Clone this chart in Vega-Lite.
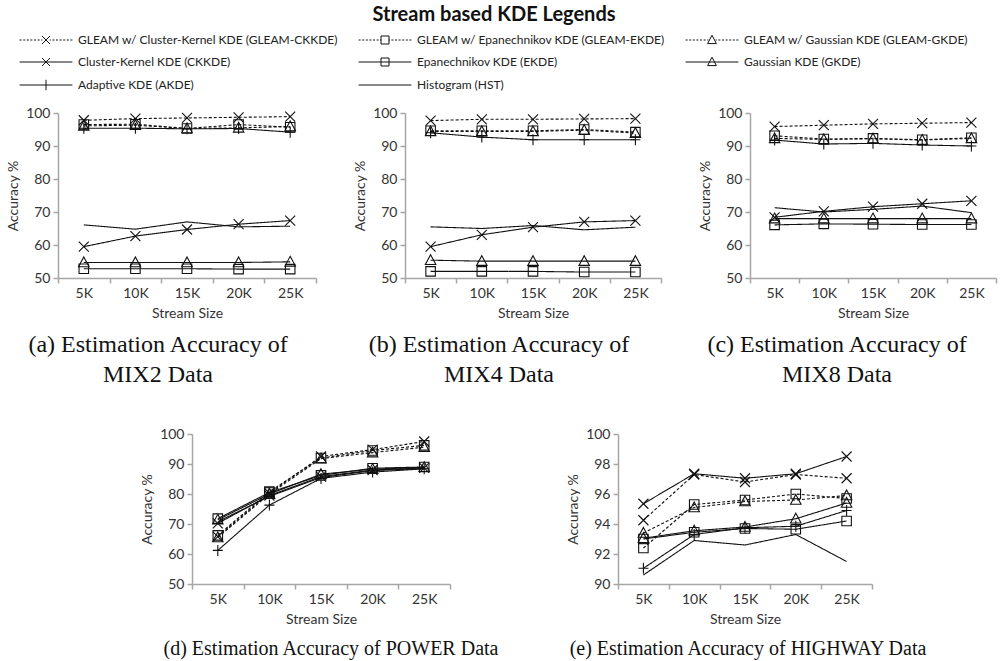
{
"$schema": "https://vega.github.io/schema/vega-lite/v6.json",
"background": "white",
"padding": {"left": 6, "top": 5, "right": 5, "bottom": 5},
"spacing": 40,
"datasets": {
"legendItems": [
{"label": "GLEAM w/ Cluster-Kernel KDE (GLEAM-CKKDE)"},
{"label": "GLEAM w/ Epanechnikov KDE (GLEAM-EKDE)"},
{"label": "GLEAM w/ Gaussian KDE (GLEAM-GKDE)"},
{"label": "Cluster-Kernel KDE (CKKDE)"},
{"label": "Epanechnikov KDE (EKDE)"},
{"label": "Gaussian KDE (GKDE)"},
{"label": "Adaptive KDE (AKDE)"},
{"label": "Histogram (HST)"}
],
"acc": [
{"panel":"a","series":"GLEAM-CKKDE","size":"5K","accuracy":97.8},{"panel":"a","series":"GLEAM-CKKDE","size":"10K","accuracy":98.3},{"panel":"a","series":"GLEAM-CKKDE","size":"15K","accuracy":98.5},{"panel":"a","series":"GLEAM-CKKDE","size":"20K","accuracy":98.7},{"panel":"a","series":"GLEAM-CKKDE","size":"25K","accuracy":98.9},
{"panel":"a","series":"GLEAM-EKDE","size":"5K","accuracy":96.5},{"panel":"a","series":"GLEAM-EKDE","size":"10K","accuracy":96.6},{"panel":"a","series":"GLEAM-EKDE","size":"15K","accuracy":95.3},{"panel":"a","series":"GLEAM-EKDE","size":"20K","accuracy":96.5},{"panel":"a","series":"GLEAM-EKDE","size":"25K","accuracy":95.7},
{"panel":"a","series":"GLEAM-GKDE","size":"5K","accuracy":96.1},{"panel":"a","series":"GLEAM-GKDE","size":"10K","accuracy":96.3},{"panel":"a","series":"GLEAM-GKDE","size":"15K","accuracy":95.3},{"panel":"a","series":"GLEAM-GKDE","size":"20K","accuracy":95.5},{"panel":"a","series":"GLEAM-GKDE","size":"25K","accuracy":95.9},
{"panel":"a","series":"CKKDE","size":"5K","accuracy":59.5},{"panel":"a","series":"CKKDE","size":"10K","accuracy":62.7},{"panel":"a","series":"CKKDE","size":"15K","accuracy":64.7},{"panel":"a","series":"CKKDE","size":"20K","accuracy":66.3},{"panel":"a","series":"CKKDE","size":"25K","accuracy":67.4},
{"panel":"a","series":"EKDE","size":"5K","accuracy":52.8},{"panel":"a","series":"EKDE","size":"10K","accuracy":52.8},{"panel":"a","series":"EKDE","size":"15K","accuracy":52.8},{"panel":"a","series":"EKDE","size":"20K","accuracy":52.7},{"panel":"a","series":"EKDE","size":"25K","accuracy":52.7},
{"panel":"a","series":"GKDE","size":"5K","accuracy":54.7},{"panel":"a","series":"GKDE","size":"10K","accuracy":54.7},{"panel":"a","series":"GKDE","size":"15K","accuracy":54.7},{"panel":"a","series":"GKDE","size":"20K","accuracy":54.7},{"panel":"a","series":"GKDE","size":"25K","accuracy":54.9},
{"panel":"a","series":"AKDE","size":"5K","accuracy":95.4},{"panel":"a","series":"AKDE","size":"10K","accuracy":95.4},{"panel":"a","series":"AKDE","size":"15K","accuracy":95.2},{"panel":"a","series":"AKDE","size":"20K","accuracy":95.3},{"panel":"a","series":"AKDE","size":"25K","accuracy":94.2},
{"panel":"a","series":"HST","size":"5K","accuracy":66.1},{"panel":"a","series":"HST","size":"10K","accuracy":64.8},{"panel":"a","series":"HST","size":"15K","accuracy":67.0},{"panel":"a","series":"HST","size":"20K","accuracy":65.5},{"panel":"a","series":"HST","size":"25K","accuracy":65.7},
{"panel":"b","series":"GLEAM-CKKDE","size":"5K","accuracy":97.7},{"panel":"b","series":"GLEAM-CKKDE","size":"10K","accuracy":98.1},{"panel":"b","series":"GLEAM-CKKDE","size":"15K","accuracy":98.1},{"panel":"b","series":"GLEAM-CKKDE","size":"20K","accuracy":98.2},{"panel":"b","series":"GLEAM-CKKDE","size":"25K","accuracy":98.3},
{"panel":"b","series":"GLEAM-EKDE","size":"5K","accuracy":94.6},{"panel":"b","series":"GLEAM-EKDE","size":"10K","accuracy":94.6},{"panel":"b","series":"GLEAM-EKDE","size":"15K","accuracy":94.6},{"panel":"b","series":"GLEAM-EKDE","size":"20K","accuracy":95.0},{"panel":"b","series":"GLEAM-EKDE","size":"25K","accuracy":94.2},
{"panel":"b","series":"GLEAM-GKDE","size":"5K","accuracy":94.4},{"panel":"b","series":"GLEAM-GKDE","size":"10K","accuracy":94.4},{"panel":"b","series":"GLEAM-GKDE","size":"15K","accuracy":94.4},{"panel":"b","series":"GLEAM-GKDE","size":"20K","accuracy":94.8},{"panel":"b","series":"GLEAM-GKDE","size":"25K","accuracy":93.9},
{"panel":"b","series":"CKKDE","size":"5K","accuracy":59.5},{"panel":"b","series":"CKKDE","size":"10K","accuracy":63.1},{"panel":"b","series":"CKKDE","size":"15K","accuracy":65.4},{"panel":"b","series":"CKKDE","size":"20K","accuracy":67.0},{"panel":"b","series":"CKKDE","size":"25K","accuracy":67.4},
{"panel":"b","series":"EKDE","size":"5K","accuracy":52.0},{"panel":"b","series":"EKDE","size":"10K","accuracy":52.0},{"panel":"b","series":"EKDE","size":"15K","accuracy":52.0},{"panel":"b","series":"EKDE","size":"20K","accuracy":51.8},{"panel":"b","series":"EKDE","size":"25K","accuracy":51.8},
{"panel":"b","series":"GKDE","size":"5K","accuracy":55.4},{"panel":"b","series":"GKDE","size":"10K","accuracy":55.1},{"panel":"b","series":"GKDE","size":"15K","accuracy":55.1},{"panel":"b","series":"GKDE","size":"20K","accuracy":55.1},{"panel":"b","series":"GKDE","size":"25K","accuracy":55.1},
{"panel":"b","series":"AKDE","size":"5K","accuracy":94.0},{"panel":"b","series":"AKDE","size":"10K","accuracy":92.7},{"panel":"b","series":"AKDE","size":"15K","accuracy":91.9},{"panel":"b","series":"AKDE","size":"20K","accuracy":91.9},{"panel":"b","series":"AKDE","size":"25K","accuracy":91.9},
{"panel":"b","series":"HST","size":"5K","accuracy":65.5},{"panel":"b","series":"HST","size":"10K","accuracy":65.0},{"panel":"b","series":"HST","size":"15K","accuracy":65.9},{"panel":"b","series":"HST","size":"20K","accuracy":64.6},{"panel":"b","series":"HST","size":"25K","accuracy":65.4},
{"panel":"c","series":"GLEAM-CKKDE","size":"5K","accuracy":95.9},{"panel":"c","series":"GLEAM-CKKDE","size":"10K","accuracy":96.3},{"panel":"c","series":"GLEAM-CKKDE","size":"15K","accuracy":96.7},{"panel":"c","series":"GLEAM-CKKDE","size":"20K","accuracy":96.9},{"panel":"c","series":"GLEAM-CKKDE","size":"25K","accuracy":97.1},
{"panel":"c","series":"GLEAM-EKDE","size":"5K","accuracy":93.1},{"panel":"c","series":"GLEAM-EKDE","size":"10K","accuracy":92.1},{"panel":"c","series":"GLEAM-EKDE","size":"15K","accuracy":92.3},{"panel":"c","series":"GLEAM-EKDE","size":"20K","accuracy":91.9},{"panel":"c","series":"GLEAM-EKDE","size":"25K","accuracy":92.5},
{"panel":"c","series":"GLEAM-GKDE","size":"5K","accuracy":92.3},{"panel":"c","series":"GLEAM-GKDE","size":"10K","accuracy":92.0},{"panel":"c","series":"GLEAM-GKDE","size":"15K","accuracy":92.2},{"panel":"c","series":"GLEAM-GKDE","size":"20K","accuracy":91.8},{"panel":"c","series":"GLEAM-GKDE","size":"25K","accuracy":92.3},
{"panel":"c","series":"CKKDE","size":"5K","accuracy":68.4},{"panel":"c","series":"CKKDE","size":"10K","accuracy":70.2},{"panel":"c","series":"CKKDE","size":"15K","accuracy":71.6},{"panel":"c","series":"CKKDE","size":"20K","accuracy":72.5},{"panel":"c","series":"CKKDE","size":"25K","accuracy":73.4},
{"panel":"c","series":"EKDE","size":"5K","accuracy":66.1},{"panel":"c","series":"EKDE","size":"10K","accuracy":66.4},{"panel":"c","series":"EKDE","size":"15K","accuracy":66.3},{"panel":"c","series":"EKDE","size":"20K","accuracy":66.2},{"panel":"c","series":"EKDE","size":"25K","accuracy":66.2},
{"panel":"c","series":"GKDE","size":"5K","accuracy":68.0},{"panel":"c","series":"GKDE","size":"10K","accuracy":68.0},{"panel":"c","series":"GKDE","size":"15K","accuracy":68.0},{"panel":"c","series":"GKDE","size":"20K","accuracy":68.0},{"panel":"c","series":"GKDE","size":"25K","accuracy":68.0},
{"panel":"c","series":"AKDE","size":"5K","accuracy":91.8},{"panel":"c","series":"AKDE","size":"10K","accuracy":90.6},{"panel":"c","series":"AKDE","size":"15K","accuracy":90.8},{"panel":"c","series":"AKDE","size":"20K","accuracy":90.3},{"panel":"c","series":"AKDE","size":"25K","accuracy":90.0},
{"panel":"c","series":"HST","size":"5K","accuracy":71.3},{"panel":"c","series":"HST","size":"10K","accuracy":70.0},{"panel":"c","series":"HST","size":"15K","accuracy":70.8},{"panel":"c","series":"HST","size":"20K","accuracy":71.8},{"panel":"c","series":"HST","size":"25K","accuracy":69.8},
{"panel":"d","series":"GLEAM-CKKDE","size":"5K","accuracy":65.8},{"panel":"d","series":"GLEAM-CKKDE","size":"10K","accuracy":80.3},{"panel":"d","series":"GLEAM-CKKDE","size":"15K","accuracy":92.5},{"panel":"d","series":"GLEAM-CKKDE","size":"20K","accuracy":94.8},{"panel":"d","series":"GLEAM-CKKDE","size":"25K","accuracy":97.5},
{"panel":"d","series":"GLEAM-EKDE","size":"5K","accuracy":66.2},{"panel":"d","series":"GLEAM-EKDE","size":"10K","accuracy":80.8},{"panel":"d","series":"GLEAM-EKDE","size":"15K","accuracy":92.0},{"panel":"d","series":"GLEAM-EKDE","size":"20K","accuracy":94.5},{"panel":"d","series":"GLEAM-EKDE","size":"25K","accuracy":96.2},
{"panel":"d","series":"GLEAM-GKDE","size":"5K","accuracy":65.5},{"panel":"d","series":"GLEAM-GKDE","size":"10K","accuracy":80.0},{"panel":"d","series":"GLEAM-GKDE","size":"15K","accuracy":91.8},{"panel":"d","series":"GLEAM-GKDE","size":"20K","accuracy":93.8},{"panel":"d","series":"GLEAM-GKDE","size":"25K","accuracy":95.6},
{"panel":"d","series":"CKKDE","size":"5K","accuracy":70.2},{"panel":"d","series":"CKKDE","size":"10K","accuracy":79.5},{"panel":"d","series":"CKKDE","size":"15K","accuracy":85.8},{"panel":"d","series":"CKKDE","size":"20K","accuracy":88.0},{"panel":"d","series":"CKKDE","size":"25K","accuracy":88.7},
{"panel":"d","series":"EKDE","size":"5K","accuracy":71.8},{"panel":"d","series":"EKDE","size":"10K","accuracy":80.5},{"panel":"d","series":"EKDE","size":"15K","accuracy":86.2},{"panel":"d","series":"EKDE","size":"20K","accuracy":88.6},{"panel":"d","series":"EKDE","size":"25K","accuracy":89.0},
{"panel":"d","series":"GKDE","size":"5K","accuracy":71.4},{"panel":"d","series":"GKDE","size":"10K","accuracy":80.0},{"panel":"d","series":"GKDE","size":"15K","accuracy":86.6},{"panel":"d","series":"GKDE","size":"20K","accuracy":88.3},{"panel":"d","series":"GKDE","size":"25K","accuracy":88.9},
{"panel":"d","series":"AKDE","size":"5K","accuracy":61.2},{"panel":"d","series":"AKDE","size":"10K","accuracy":76.3},{"panel":"d","series":"AKDE","size":"15K","accuracy":85.2},{"panel":"d","series":"AKDE","size":"20K","accuracy":87.3},{"panel":"d","series":"AKDE","size":"25K","accuracy":88.4},
{"panel":"d","series":"HST","size":"5K","accuracy":70.8},{"panel":"d","series":"HST","size":"10K","accuracy":79.2},{"panel":"d","series":"HST","size":"15K","accuracy":85.5},{"panel":"d","series":"HST","size":"20K","accuracy":87.8},{"panel":"d","series":"HST","size":"25K","accuracy":88.5},
{"panel":"e","series":"GLEAM-CKKDE","size":"5K","accuracy":94.25},{"panel":"e","series":"GLEAM-CKKDE","size":"10K","accuracy":97.3},{"panel":"e","series":"GLEAM-CKKDE","size":"15K","accuracy":96.8},{"panel":"e","series":"GLEAM-CKKDE","size":"20K","accuracy":97.3},{"panel":"e","series":"GLEAM-CKKDE","size":"25K","accuracy":97.05},
{"panel":"e","series":"GLEAM-EKDE","size":"5K","accuracy":92.4},{"panel":"e","series":"GLEAM-EKDE","size":"10K","accuracy":95.3},{"panel":"e","series":"GLEAM-EKDE","size":"15K","accuracy":95.6},{"panel":"e","series":"GLEAM-EKDE","size":"20K","accuracy":96.0},{"panel":"e","series":"GLEAM-EKDE","size":"25K","accuracy":95.7},
{"panel":"e","series":"GLEAM-GKDE","size":"5K","accuracy":93.4},{"panel":"e","series":"GLEAM-GKDE","size":"10K","accuracy":95.1},{"panel":"e","series":"GLEAM-GKDE","size":"15K","accuracy":95.5},{"panel":"e","series":"GLEAM-GKDE","size":"20K","accuracy":95.6},{"panel":"e","series":"GLEAM-GKDE","size":"25K","accuracy":95.9},
{"panel":"e","series":"CKKDE","size":"5K","accuracy":95.35},{"panel":"e","series":"CKKDE","size":"10K","accuracy":97.35},{"panel":"e","series":"CKKDE","size":"15K","accuracy":97.05},{"panel":"e","series":"CKKDE","size":"20K","accuracy":97.35},{"panel":"e","series":"CKKDE","size":"25K","accuracy":98.5},
{"panel":"e","series":"EKDE","size":"5K","accuracy":93.0},{"panel":"e","series":"EKDE","size":"10K","accuracy":93.45},{"panel":"e","series":"EKDE","size":"15K","accuracy":93.7},{"panel":"e","series":"EKDE","size":"20K","accuracy":93.65},{"panel":"e","series":"EKDE","size":"25K","accuracy":94.2},
{"panel":"e","series":"GKDE","size":"5K","accuracy":93.05},{"panel":"e","series":"GKDE","size":"10K","accuracy":93.55},{"panel":"e","series":"GKDE","size":"15K","accuracy":93.8},{"panel":"e","series":"GKDE","size":"20K","accuracy":94.35},{"panel":"e","series":"GKDE","size":"25K","accuracy":95.4},
{"panel":"e","series":"AKDE","size":"5K","accuracy":91.05},{"panel":"e","series":"AKDE","size":"10K","accuracy":93.3},{"panel":"e","series":"AKDE","size":"15K","accuracy":93.75},{"panel":"e","series":"AKDE","size":"20K","accuracy":93.85},{"panel":"e","series":"AKDE","size":"25K","accuracy":94.9},
{"panel":"e","series":"HST","size":"5K","accuracy":90.6},{"panel":"e","series":"HST","size":"10K","accuracy":92.9},{"panel":"e","series":"HST","size":"15K","accuracy":92.6},{"panel":"e","series":"HST","size":"20K","accuracy":93.3},{"panel":"e","series":"HST","size":"25K","accuracy":91.5}
]
},
"vconcat": [
{
"hconcat": [
{
"width": 258, "height": 165,
"title": {"text": ["(a) Estimation Accuracy of", "MIX2 Data"], "dx": -29},
"data": {"name": "acc"},
"transform": [{"filter": "datum.panel == 'a'"}],
"encoding": {
"x": {"field": "size", "type": "ordinal", "bandPosition": 0.5, "scale": {"type": "band", "domain": ["5K","10K","15K","20K","25K"], "paddingInner": 0, "paddingOuter": 0}, "axis": {"title": "Stream Size"}},
"y": {"field": "accuracy", "type": "quantitative", "scale": {"domain": [50, 100], "nice": false, "zero": false}, "axis": {"title": "Accuracy %", "values": [50, 60, 70, 80, 90, 100]}}
},
"layer": [
{"mark": {"type": "line", "color": "#111", "strokeWidth": 1.1}, "encoding": {"strokeDash": {"field": "series", "type": "nominal", "scale": {"domain": ["GLEAM-CKKDE","GLEAM-EKDE","GLEAM-GKDE","CKKDE","EKDE","GKDE","AKDE","HST"], "range": [[3,2],[3,2],[3,2],[1,0],[1,0],[1,0],[1,0],[1,0]]}, "legend": null}}},
{"transform": [{"filter": {"field": "series", "oneOf": ["GLEAM-CKKDE","CKKDE"]}}], "mark": {"type": "point", "shape": "M-1,-1L1,1M-1,1L1,-1", "size": 100, "filled": false, "color": "#111", "strokeWidth": 1.1, "opacity": 1}},
{"transform": [{"filter": {"field": "series", "oneOf": ["GLEAM-EKDE","EKDE"]}}], "mark": {"type": "point", "shape": "M-0.95,-0.95H0.95V0.95H-0.95Z", "size": 100, "filled": false, "color": "#111", "strokeWidth": 1.1, "opacity": 1}},
{"transform": [{"filter": {"field": "series", "oneOf": ["GLEAM-GKDE","GKDE"]}}], "mark": {"type": "point", "shape": "M0,-1.1L1.05,0.85H-1.05Z", "size": 100, "filled": false, "color": "#111", "strokeWidth": 1.1, "opacity": 1}},
{"transform": [{"filter": {"field": "series", "oneOf": ["AKDE"]}}], "mark": {"type": "point", "shape": "M-1,0H1M0,-1.1V1.1", "size": 100, "filled": false, "color": "#111", "strokeWidth": 1.1, "opacity": 1}},
{
"data": {"name": "legendItems"},
"transform": [{"filter": "false"}],
"mark": {"type": "point", "filled": false, "color": "#111", "strokeWidth": 1, "opacity": 1},
"encoding": {
"shape": {"field": "label", "type": "nominal",
"scale": {"domain": ["GLEAM w/ Cluster-Kernel KDE (GLEAM-CKKDE)","GLEAM w/ Epanechnikov KDE (GLEAM-EKDE)","GLEAM w/ Gaussian KDE (GLEAM-GKDE)","Cluster-Kernel KDE (CKKDE)","Epanechnikov KDE (EKDE)","Gaussian KDE (GKDE)","Adaptive KDE (AKDE)","Histogram (HST)"],
"range": [
"M-6.6,0H-6.1M-5.7,0H-5.2M-4.8,0H-4.3M-3.9,0H-3.4M-3,0H-2.5M-2.1,0H-1.6M-1.2,0H-0.9M0.9,0H1.2M1.6,0H2.1M2.5,0H3M3.4,0H3.9M4.3,0H4.8M5.2,0H5.7M6.1,0H6.6M-1,-1L1,1M-1,1L1,-1",
"M-6.6,0H-6.1M-5.7,0H-5.2M-4.8,0H-4.3M-3.9,0H-3.4M-3,0H-2.5M-2.1,0H-1.6M-1.2,0H-0.9M0.9,0H1.2M1.6,0H2.1M2.5,0H3M3.4,0H3.9M4.3,0H4.8M5.2,0H5.7M6.1,0H6.6M-1,-1H1V1H-1Z",
"M-6.6,0H-6.1M-5.7,0H-5.2M-4.8,0H-4.3M-3.9,0H-3.4M-3,0H-2.5M-2.1,0H-1.6M-1.2,0H-0.9M0.9,0H1.2M1.6,0H2.1M2.5,0H3M3.4,0H3.9M4.3,0H4.8M5.2,0H5.7M6.1,0H6.6M0,-1.2L1.1,0.9H-1.1Z",
"M-6.6,0H6.6M-1,-1L1,1M-1,1L1,-1",
"M-6.6,0H6.6M-1,-1H1V1H-1Z",
"M-6.6,0H6.6M0,-1.2L1.1,0.9H-1.1Z",
"M-6.6,0H6.6M0,-1.3V1.3",
"M-6.6,0H6.6"
]},
"legend": {
"title": "Stream based KDE Legends", "orient": "none", "legendX": -38, "legendY": -108,
"columns": 3, "direction": "horizontal", "gridAlign": "each", "columnPadding": 18, "rowPadding": 9, "padding": 0,
"symbolSize": 64, "symbolStrokeWidth": 1, "symbolStrokeColor": "#111", "symbolFillColor": "transparent", "symbolOffset": 20, "labelOffset": 26,
"labelFont": "Lato", "labelFontSize": 12, "labelColor": "#222", "labelLimit": 400,
"titleFont": "Lato", "titleFontSize": 20, "titleFontWeight": "bold", "titleColor": "#111", "titleAnchor": "middle", "titlePadding": 9, "titleLimit": 600
}
}
}
}
]
},
{
"width": 256, "height": 165,
"title": {"text": ["(b) Estimation Accuracy of", "MIX4 Data"], "dx": -34},
"data": {"name": "acc"},
"transform": [{"filter": "datum.panel == 'b'"}],
"encoding": {
"x": {"field": "size", "type": "ordinal", "bandPosition": 0.5, "scale": {"type": "band", "domain": ["5K","10K","15K","20K","25K"], "paddingInner": 0, "paddingOuter": 0}, "axis": {"title": "Stream Size"}},
"y": {"field": "accuracy", "type": "quantitative", "scale": {"domain": [50, 100], "nice": false, "zero": false}, "axis": {"title": "Accuracy %", "values": [50, 60, 70, 80, 90, 100]}}
},
"layer": [
{"mark": {"type": "line", "color": "#111", "strokeWidth": 1.1}, "encoding": {"strokeDash": {"field": "series", "type": "nominal", "scale": {"domain": ["GLEAM-CKKDE","GLEAM-EKDE","GLEAM-GKDE","CKKDE","EKDE","GKDE","AKDE","HST"], "range": [[3,2],[3,2],[3,2],[1,0],[1,0],[1,0],[1,0],[1,0]]}, "legend": null}}},
{"transform": [{"filter": {"field": "series", "oneOf": ["GLEAM-CKKDE","CKKDE"]}}], "mark": {"type": "point", "shape": "M-1,-1L1,1M-1,1L1,-1", "size": 100, "filled": false, "color": "#111", "strokeWidth": 1.1, "opacity": 1}},
{"transform": [{"filter": {"field": "series", "oneOf": ["GLEAM-EKDE","EKDE"]}}], "mark": {"type": "point", "shape": "M-0.95,-0.95H0.95V0.95H-0.95Z", "size": 100, "filled": false, "color": "#111", "strokeWidth": 1.1, "opacity": 1}},
{"transform": [{"filter": {"field": "series", "oneOf": ["GLEAM-GKDE","GKDE"]}}], "mark": {"type": "point", "shape": "M0,-1.1L1.05,0.85H-1.05Z", "size": 100, "filled": false, "color": "#111", "strokeWidth": 1.1, "opacity": 1}},
{"transform": [{"filter": {"field": "series", "oneOf": ["AKDE"]}}], "mark": {"type": "point", "shape": "M-1,0H1M0,-1.1V1.1", "size": 100, "filled": false, "color": "#111", "strokeWidth": 1.1, "opacity": 1}}
]
},
{
"width": 246, "height": 165,
"title": {"text": ["(c) Estimation Accuracy of", "MIX8 Data"], "dx": -36},
"data": {"name": "acc"},
"transform": [{"filter": "datum.panel == 'c'"}],
"encoding": {
"x": {"field": "size", "type": "ordinal", "bandPosition": 0.5, "scale": {"type": "band", "domain": ["5K","10K","15K","20K","25K"], "paddingInner": 0, "paddingOuter": 0}, "axis": {"title": "Stream Size"}},
"y": {"field": "accuracy", "type": "quantitative", "scale": {"domain": [50, 100], "nice": false, "zero": false}, "axis": {"title": "Accuracy %", "values": [50, 60, 70, 80, 90, 100]}}
},
"layer": [
{"mark": {"type": "line", "color": "#111", "strokeWidth": 1.1}, "encoding": {"strokeDash": {"field": "series", "type": "nominal", "scale": {"domain": ["GLEAM-CKKDE","GLEAM-EKDE","GLEAM-GKDE","CKKDE","EKDE","GKDE","AKDE","HST"], "range": [[3,2],[3,2],[3,2],[1,0],[1,0],[1,0],[1,0],[1,0]]}, "legend": null}}},
{"transform": [{"filter": {"field": "series", "oneOf": ["GLEAM-CKKDE","CKKDE"]}}], "mark": {"type": "point", "shape": "M-1,-1L1,1M-1,1L1,-1", "size": 100, "filled": false, "color": "#111", "strokeWidth": 1.1, "opacity": 1}},
{"transform": [{"filter": {"field": "series", "oneOf": ["GLEAM-EKDE","EKDE"]}}], "mark": {"type": "point", "shape": "M-0.95,-0.95H0.95V0.95H-0.95Z", "size": 100, "filled": false, "color": "#111", "strokeWidth": 1.1, "opacity": 1}},
{"transform": [{"filter": {"field": "series", "oneOf": ["GLEAM-GKDE","GKDE"]}}], "mark": {"type": "point", "shape": "M0,-1.1L1.05,0.85H-1.05Z", "size": 100, "filled": false, "color": "#111", "strokeWidth": 1.1, "opacity": 1}},
{"transform": [{"filter": {"field": "series", "oneOf": ["AKDE"]}}], "mark": {"type": "point", "shape": "M-1,0H1M0,-1.1V1.1", "size": 100, "filled": false, "color": "#111", "strokeWidth": 1.1, "opacity": 1}}
]
}
],
"spacing": 89,
"bounds": "flush",
"resolve": {"scale": {"shape": "independent"}, "legend": {"shape": "independent"}}
},
{
"hconcat": [
{
"width": 1, "height": 150,
"data": {"values": [{"note": "spacer"}]},
"mark": {"type": "point", "opacity": 0},
"encoding": {}
},
{
"hconcat": [
{
"width": 258, "height": 150,
"title": {"text": "(d) Estimation Accuracy of POWER Data", "dx": 10, "fontSize": 20, "offset": 13},
"data": {"name": "acc"},
"transform": [{"filter": "datum.panel == 'd'"}],
"encoding": {
"x": {"field": "size", "type": "ordinal", "bandPosition": 0.5, "scale": {"type": "band", "domain": ["5K","10K","15K","20K","25K"], "paddingInner": 0, "paddingOuter": 0}, "axis": {"title": "Stream Size"}},
"y": {"field": "accuracy", "type": "quantitative", "scale": {"domain": [50, 100], "nice": false, "zero": false}, "axis": {"title": "Accuracy %", "values": [50, 60, 70, 80, 90, 100]}}
},
"layer": [
{"mark": {"type": "line", "color": "#111", "strokeWidth": 1.1}, "encoding": {"strokeDash": {"field": "series", "type": "nominal", "scale": {"domain": ["GLEAM-CKKDE","GLEAM-EKDE","GLEAM-GKDE","CKKDE","EKDE","GKDE","AKDE","HST"], "range": [[3,2],[3,2],[3,2],[1,0],[1,0],[1,0],[1,0],[1,0]]}, "legend": null}}},
{"transform": [{"filter": {"field": "series", "oneOf": ["GLEAM-CKKDE","CKKDE"]}}], "mark": {"type": "point", "shape": "M-1,-1L1,1M-1,1L1,-1", "size": 100, "filled": false, "color": "#111", "strokeWidth": 1.1, "opacity": 1}},
{"transform": [{"filter": {"field": "series", "oneOf": ["GLEAM-EKDE","EKDE"]}}], "mark": {"type": "point", "shape": "M-0.95,-0.95H0.95V0.95H-0.95Z", "size": 100, "filled": false, "color": "#111", "strokeWidth": 1.1, "opacity": 1}},
{"transform": [{"filter": {"field": "series", "oneOf": ["GLEAM-GKDE","GKDE"]}}], "mark": {"type": "point", "shape": "M0,-1.1L1.05,0.85H-1.05Z", "size": 100, "filled": false, "color": "#111", "strokeWidth": 1.1, "opacity": 1}},
{"transform": [{"filter": {"field": "series", "oneOf": ["AKDE"]}}], "mark": {"type": "point", "shape": "M-1,0H1M0,-1.1V1.1", "size": 100, "filled": false, "color": "#111", "strokeWidth": 1.1, "opacity": 1}}
]
},
{
"width": 254, "height": 150,
"title": {"text": "(e) Estimation Accuracy of HIGHWAY Data", "dx": 3, "fontSize": 20, "offset": 13},
"data": {"name": "acc"},
"transform": [{"filter": "datum.panel == 'e'"}],
"encoding": {
"x": {"field": "size", "type": "ordinal", "bandPosition": 0.5, "scale": {"type": "band", "domain": ["5K","10K","15K","20K","25K"], "paddingInner": 0, "paddingOuter": 0}, "axis": {"title": "Stream Size"}},
"y": {"field": "accuracy", "type": "quantitative", "scale": {"domain": [90, 100], "nice": false, "zero": false}, "axis": {"title": "Accuracy %", "values": [90, 92, 94, 96, 98, 100]}}
},
"layer": [
{"mark": {"type": "line", "color": "#111", "strokeWidth": 1.1}, "encoding": {"strokeDash": {"field": "series", "type": "nominal", "scale": {"domain": ["GLEAM-CKKDE","GLEAM-EKDE","GLEAM-GKDE","CKKDE","EKDE","GKDE","AKDE","HST"], "range": [[3,2],[3,2],[3,2],[1,0],[1,0],[1,0],[1,0],[1,0]]}, "legend": null}}},
{"transform": [{"filter": {"field": "series", "oneOf": ["GLEAM-CKKDE","CKKDE"]}}], "mark": {"type": "point", "shape": "M-1,-1L1,1M-1,1L1,-1", "size": 100, "filled": false, "color": "#111", "strokeWidth": 1.1, "opacity": 1}},
{"transform": [{"filter": {"field": "series", "oneOf": ["GLEAM-EKDE","EKDE"]}}], "mark": {"type": "point", "shape": "M-0.95,-0.95H0.95V0.95H-0.95Z", "size": 100, "filled": false, "color": "#111", "strokeWidth": 1.1, "opacity": 1}},
{"transform": [{"filter": {"field": "series", "oneOf": ["GLEAM-GKDE","GKDE"]}}], "mark": {"type": "point", "shape": "M0,-1.1L1.05,0.85H-1.05Z", "size": 100, "filled": false, "color": "#111", "strokeWidth": 1.1, "opacity": 1}},
{"transform": [{"filter": {"field": "series", "oneOf": ["AKDE"]}}], "mark": {"type": "point", "shape": "M-1,0H1M0,-1.1V1.1", "size": 100, "filled": false, "color": "#111", "strokeWidth": 1.1, "opacity": 1}}
]
}
],
"spacing": 168,
"bounds": "flush"
}
],
"spacing": 133,
"bounds": "flush"
}
],
"config": {
"view": {"stroke": null},
"font": "Lato",
"axis": {"labelFont": "Lato", "labelFontSize": 14, "labelColor": "#333", "titleFont": "Lato", "titleFontSize": 14, "titleFontWeight": "normal", "titleColor": "#333", "domainColor": "#a6a6a6", "tickColor": "#a6a6a6", "domainWidth": 1.5, "tickWidth": 1.5, "tickSize": 5, "grid": false},
"axisX": {"tickBand": "extent", "labelAngle": 0, "labelPadding": 3, "titlePadding": 6},
"axisY": {"labelPadding": 3, "titlePadding": 5},
"title": {"orient": "bottom", "anchor": "middle", "frame": "group", "font": "Liberation Serif", "fontSize": 24, "fontWeight": "normal", "color": "#111", "lineHeight": 30, "offset": 13}
}
}
